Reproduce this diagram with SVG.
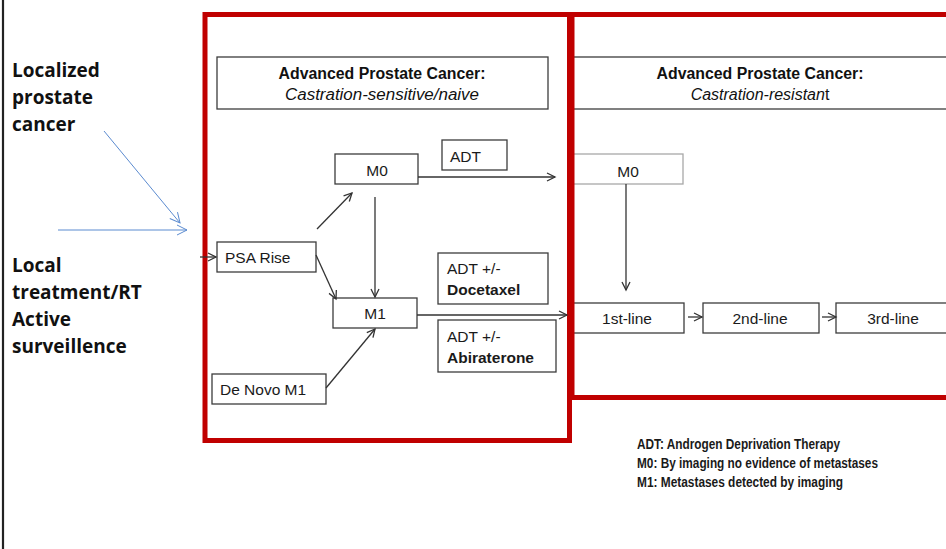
<svg xmlns="http://www.w3.org/2000/svg" width="946" height="549" viewBox="0 0 946 549">
<style>
.box{fill:#fff;stroke:#3c3c3c;stroke-width:1.3}
.lbox{fill:#fff;stroke:#a8a8a8;stroke-width:1.3}
.red{fill:none;stroke:#c00000;stroke-width:5}
.t{font-family:"Liberation Sans",Arial,sans-serif;font-size:15.5px;fill:#1a1a1a}
.tb{font-weight:bold}
.h{font-family:"Liberation Sans",Arial,sans-serif;font-size:16px;fill:#111;text-anchor:middle}
.side{font-family:"Open Sans","DejaVu Sans",sans-serif;font-weight:bold;font-size:19px;fill:#111}
.leg{font-family:"Liberation Sans",Arial,sans-serif;font-weight:bold;font-size:14px;fill:#1a1a1a}
.c{fill:none;stroke:#333;stroke-width:1.3}
.cb{fill:none;stroke:#5b8bd0;stroke-width:1}
</style>
<defs>
<marker id="ah" markerUnits="userSpaceOnUse" markerWidth="12" markerHeight="12" refX="8" refY="4" orient="auto" overflow="visible">
<path d="M0,0 L8,4 L0,8" fill="none" stroke="#333" stroke-width="1.3"/>
</marker>
<marker id="ahb" markerUnits="userSpaceOnUse" markerWidth="14" markerHeight="14" refX="10" refY="5" orient="auto" overflow="visible">
<path d="M0,0 L10,5 L0,10" fill="none" stroke="#5b8bd0" stroke-width="1"/>
</marker>
</defs>
<rect width="946" height="549" fill="#fff"/>
<line x1="3" y1="0" x2="3" y2="549" stroke="#222" stroke-width="2.2"/>

<g id="side-localized">
<text class="side" x="12" y="77">Localized</text>
<text class="side" x="12" y="104">prostate</text>
<text class="side" x="12" y="131">cancer</text>
</g>
<g id="side-local">
<text class="side" x="12" y="272">Local</text>
<text class="side" x="12" y="299">treatment/RT</text>
<text class="side" x="12" y="326">Active</text>
<text class="side" x="12" y="353">surveillence</text>
</g>

<g id="header-sensitive">
<rect class="box" x="217" y="57" width="331" height="52"/>
<text class="h tb" x="382" y="79" textLength="207" lengthAdjust="spacingAndGlyphs">Advanced Prostate Cancer:</text>
<text class="h" x="382" y="100" font-style="italic" textLength="194" lengthAdjust="spacingAndGlyphs">Castration-sensitive/naive</text>
</g>
<g id="header-resistant">
<rect class="box" x="572" y="57" width="400" height="52"/>
<text class="h tb" x="760" y="79" textLength="207" lengthAdjust="spacingAndGlyphs">Advanced Prostate Cancer:</text>
<text class="h" x="760" y="100"><tspan font-style="italic">Castration-resistan</tspan>t</text>
</g>

<g id="m0-left"><rect class="box" x="335" y="154" width="83" height="30"/><text class="t" x="377" y="176" text-anchor="middle">M0</text></g>
<g id="adt"><rect class="box" x="442" y="140" width="65" height="30"/><text class="t" x="450" y="162">ADT</text></g>
<g id="psa"><rect class="box" x="217" y="242" width="99" height="30"/><text class="t" x="225" y="263">PSA Rise</text></g>
<g id="m1"><rect class="box" x="333" y="298" width="84" height="30"/><text class="t" x="375" y="319" text-anchor="middle">M1</text></g>
<g id="denovo"><rect class="box" x="212" y="374" width="114" height="30"/><text class="t" x="220" y="395">De Novo M1</text></g>
<g id="docetaxel"><rect class="box" x="438" y="253" width="110" height="51"/><text class="t" x="447" y="274">ADT +/-</text><text class="t tb" x="447" y="295">Docetaxel</text></g>
<g id="abiraterone"><rect class="box" x="438" y="320" width="118" height="52"/><text class="t" x="447" y="342">ADT +/-</text><text class="t tb" x="447" y="363">Abiraterone</text></g>

<g id="m0-right"><rect class="lbox" x="572" y="154" width="111" height="30"/><text class="t" x="628" y="177" text-anchor="middle">M0</text></g>
<g id="line1"><rect class="box" x="572" y="303" width="112" height="30"/><text class="t" x="627" y="324" text-anchor="middle">1st-line</text></g>
<g id="line2"><rect class="box" x="703" y="303" width="116" height="30"/><text class="t" x="760" y="324" text-anchor="middle">2nd-line</text></g>
<g id="line3"><rect class="box" x="836" y="303" width="140" height="30"/><text class="t" x="893" y="324" text-anchor="middle">3rd-line</text></g>

<g id="frames">
<rect class="red" x="205" y="14.5" width="364.5" height="426"/>
<rect class="red" x="572" y="14.5" width="400" height="383"/>
</g>

<g id="connectors">
<line class="cb" x1="104" y1="131" x2="180" y2="223" marker-end="url(#ahb)"/>
<line class="cb" x1="58" y1="230" x2="187" y2="230" marker-end="url(#ahb)"/>
<line class="c" x1="200" y1="257" x2="216" y2="257" marker-end="url(#ah)"/>
<line class="c" x1="317" y1="229" x2="352" y2="193" marker-end="url(#ah)"/>
<line class="c" x1="316" y1="255" x2="336" y2="299" marker-end="url(#ah)"/>
<line class="c" x1="326" y1="388" x2="375" y2="329" marker-end="url(#ah)"/>
<line class="c" x1="375" y1="197" x2="375" y2="297" marker-end="url(#ah)"/>
<line class="c" x1="418" y1="177" x2="555" y2="177" marker-end="url(#ah)"/>
<line class="c" x1="417" y1="315" x2="567" y2="315" marker-end="url(#ah)"/>
<line class="c" x1="626" y1="184" x2="626" y2="290" marker-end="url(#ah)"/>
<line class="c" x1="688" y1="317" x2="702" y2="317" marker-end="url(#ah)"/>
<line class="c" x1="822" y1="317" x2="836" y2="317" marker-end="url(#ah)"/>
</g>

<g id="legend">
<text class="leg" x="637" y="449" textLength="203" lengthAdjust="spacingAndGlyphs">ADT: Androgen Deprivation Therapy</text>
<text class="leg" x="637" y="468" textLength="241" lengthAdjust="spacingAndGlyphs">M0: By imaging no evidence of metastases</text>
<text class="leg" x="637" y="487" textLength="206" lengthAdjust="spacingAndGlyphs">M1: Metastases detected by imaging</text>
</g>
</svg>
